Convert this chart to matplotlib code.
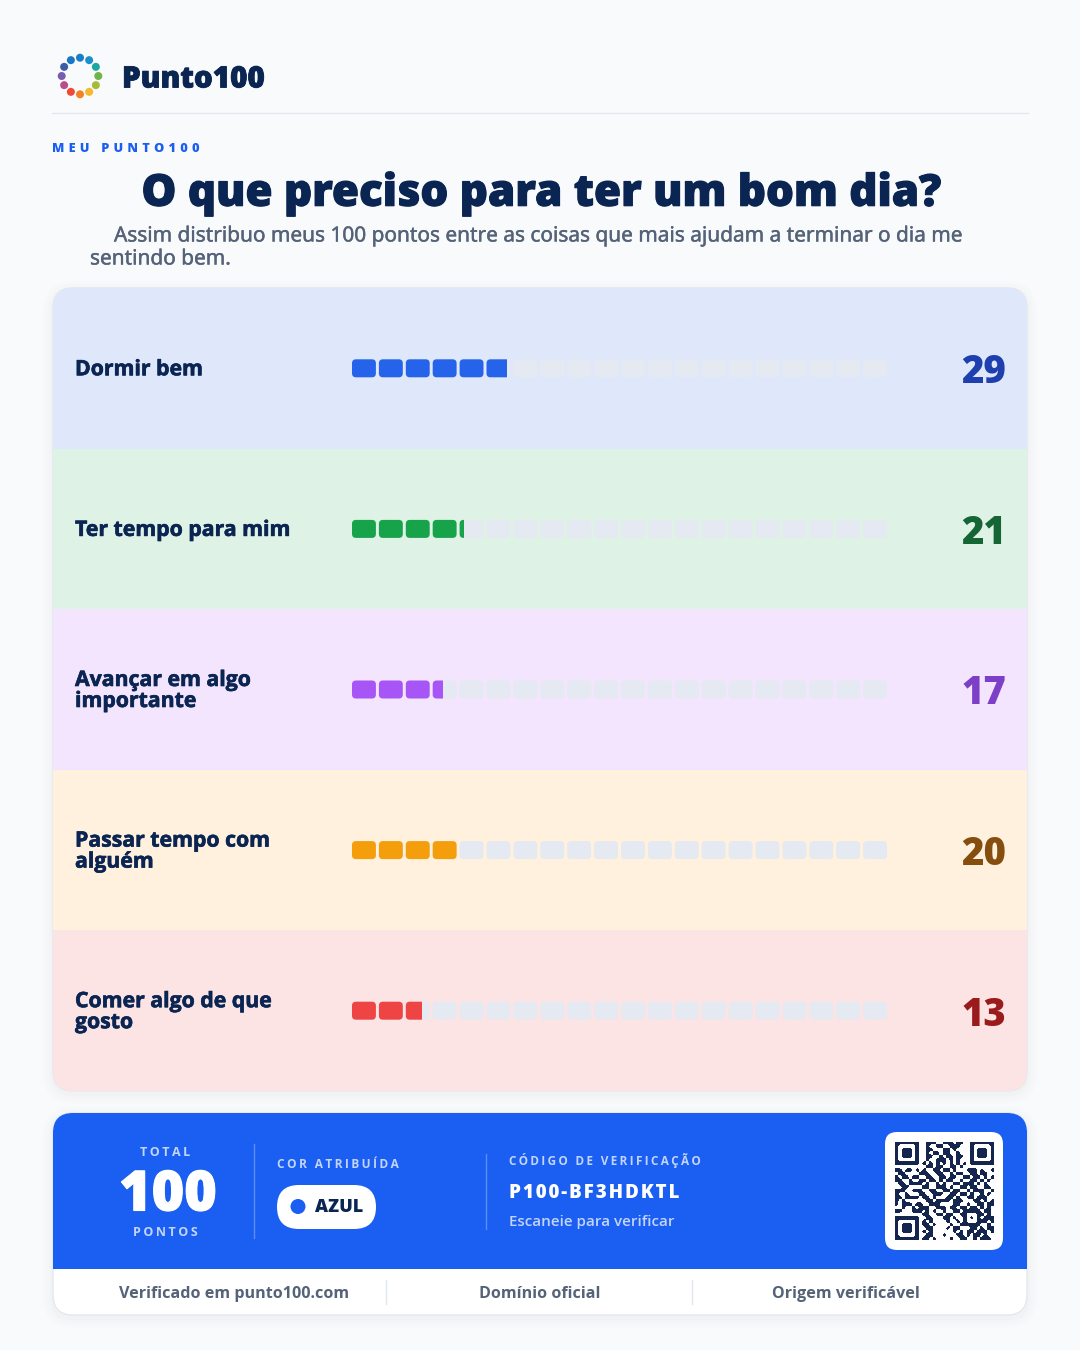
import numpy as np
import matplotlib
matplotlib.use("Agg")
import matplotlib.pyplot as plt
from matplotlib.patches import FancyBboxPatch, Rectangle, Circle
from matplotlib.colors import ListedColormap
from matplotlib import patheffects as pe

BG = "#F9FAFC"
NAVY = "#0B2553"
BLUE = "#1A5FF2"
GREY = "#556379"
PALE = "#C3D5FC"

categories = ["Dormir bem", "Ter tempo para mim", "Avançar em algo\nimportante",
              "Passar tempo com\nalguém", "Comer algo de que\ngosto"]
scores = [29, 21, 17, 20, 13]
row_colors = ["#DFE8FB", "#DEF2E5", "#F3E5FD", "#FFF1DE", "#FDE4E4"]
bar_colors = ["#2563EB", "#16A34A", "#A855F7", "#F59E0B", "#EF4444"]
num_colors = ["#1E40AF", "#166534", "#7E3FC8", "#854D0E", "#991B1B"]
track_color = "#E5E9F1"
ring_colors = ["#1B7FC8", "#1C8FCF", "#1FA79E", "#6DB54A", "#A6BC38", "#F5B82E",
               "#F58220", "#EE4B36", "#B94D8C", "#7A5CAE", "#3C5CA8", "#1878C4"]
footer_labels = ["Verificado em punto100.com", "Domínio oficial", "Origem verificável"]
n_segments = 20
max_score = 100

qr_rows = [
    "11111110" + "0111001110110" + "01111111",
    "10000010" + "0100110011100" + "01000001",
    "10111010" + "0110001101000" + "01011101",
    "10111010" + "0101101100100" + "01011101",
    "10111010" + "0110010110110" + "01011101",
    "10000010" + "0100111010100" + "01000001",
    "11111110" + "1010101010101" + "01111111",
    "00000000" + "0110110011010" + "00000000",
    "11011010" + "1001101101000" + "11101001",
    "01100001" + "1100110010110" + "01101100",
    "10110110" + "0110011011001" + "10110101",
    "11001001" + "1011010110010" + "01101010",
    "01101111" + "0100101001101" + "11010100",
    "00110000" + "1100111010011" + "01100110",
    "11100111" + "0011001101100" + "10111001",
    "10010001" + "1001110011011" + "01001010",
    "11011110" + "1101000110100" + "11011100",
    "10100000" + "0110111101110" + "00110101",
    "10111011" + "0011100001100" + "10011011",
    "00100101" + "1100111011011" + "01101010",
    "11000111" + "010100100110" + "11111" + "0110",
    "00000000" + "110011011001" + "10001" + "1010",
    "11111110" + "011000110100" + "10101" + "0111",
    "10000010" + "101000010010" + "10001" + "1101",
    "10111010" + "110100001001" + "11111" + "0010",
    "10111010" + "011000010110" + "00110" + "1011",
    "10111010" + "101000000101" + "01101" + "1101",
    "10000010" + "011000100011" + "01011" + "0100",
    "11111110" + "110100001001" + "10010" + "1110",
]

plt.rcParams['font.family'] = ['Open Sans', 'DejaVu Sans']

fig = plt.figure(figsize=(10.8, 13.5), dpi=100, facecolor=BG)
ax = fig.add_axes([0, 0, 1, 1])
ax.set_xlim(0, 1080)
ax.set_ylim(1350, 0)
ax.axis("off")


def track(s, sp="\u2009"):
    return sp.join(s)


def label(x, y, s, size, color, weight="bold", ha="left", thick=0, **kw):
    t = ax.text(x, y, s, fontsize=size, color=color, fontweight=weight, ha=ha, va="center", **kw)
    if thick:
        t.set_path_effects([pe.withStroke(linewidth=thick, foreground=color)])
    return t


def rbox(x, y, w, h, r, **kw):
    p = FancyBboxPatch((x, y), w, h, boxstyle=f"round,pad=0,rounding_size={r}", **kw)
    ax.add_patch(p)
    return p


def shadow(x, y, w, h, r):
    for grow in [10, 7, 4, 2]:
        rbox(x - grow, y - grow + 3, w + 2 * grow, h + 2 * grow, r + grow, fc="#33415C", ec="none", alpha=0.007)


# header
ring_angles = np.linspace(0, 2 * np.pi, len(ring_colors), endpoint=False)
for a, c in zip(ring_angles, ring_colors):
    ax.add_patch(Circle((80 + 18.3 * np.sin(a), 76 - 18.3 * np.cos(a)), 4, fc=c, ec="none"))
label(122, 79.5, "Punto100", 21.3, NAVY, "heavy", thick=0.6)
ax.plot([52, 1028], [113, 113], color="#E2E6EE", lw=1)
label(52, 148.5, track("MEU PUNTO100", "\u2004"), 9.2, BLUE, "heavy")
label(541, 194, "O que preciso para ter um bom dia?", 31.6, NAVY, "heavy", ha="center", thick=0.8)
for x, y, s in [(114, 236, "Assim distribuo meus 100 pontos entre as coisas que mais ajudam a terminar o dia me"),
                (90, 259, "sentindo bem.")]:
    t = ax.text(x, y, s, fontsize=15, color=GREY, va="center", family="Noto Sans")
    t.set_path_effects([pe.withStroke(linewidth=0.3, foreground=GREY)])

# main card
card_x, card_y, card_w, card_h = 53, 288, 974, 803
shadow(card_x, card_y, card_w, card_h, 20)
card = rbox(card_x, card_y, card_w, card_h, 20, fc="white", ec="#E4E7EE", lw=1, zorder=1)
row_h = card_h / len(scores)
for i, cat in enumerate(categories):
    top = card_y + i * row_h
    mid = top + row_h / 2
    bg = Rectangle((card_x, top), card_w, row_h, fc=row_colors[i], ec="none", zorder=2)
    ax.add_patch(bg)
    bg.set_clip_path(card)
    label(75, mid + 1.5, cat, 15.3, NAVY, "bold", linespacing=1.0, thick=0.45, zorder=3)
    label(1006.5, mid + 4.5, str(scores[i]), 27.5, num_colors[i], "heavy", ha="right", zorder=3)

# score bars, 0-100 scale on their own axes
ax_bar = fig.add_axes([352 / 1080, 1 - (card_y + card_h) / 1350, 535 / 1080, card_h / 1350])
ax_bar.set_xlim(0, max_score)
ax_bar.set_ylim(card_y + card_h, card_y)
ax_bar.axis("off")
seg_pitch = max_score / n_segments * (538 / 535)
seg_w = seg_pitch - 3 * max_score / 535
px = max_score / 535
for i, v in enumerate(scores):
    mid = card_y + (i + 0.5) * row_h
    clip = Rectangle((0, mid - 12), v, 24, transform=ax_bar.transData)
    for s in range(n_segments):
        for color, clipped in [(track_color, False), (bar_colors[i], True)]:
            seg = FancyBboxPatch((s * seg_pitch, mid - 9), seg_w, 18,
                                 boxstyle=f"round,pad=0,rounding_size={4 * px}",
                                 mutation_aspect=1 / px, fc=color, ec="none")
            ax_bar.add_patch(seg)
            if clipped:
                seg.set_clip_path(clip)

# bottom card
bx, by, bw, bh = 53, 1113, 974, 202
shadow(bx, by, bw, bh, 20)
bcard = rbox(bx, by, bw, bh, 20, fc="white", ec="#E4E7EE", lw=1, zorder=1)
band = Rectangle((bx, by), bw, 156, fc=BLUE, ec="none", zorder=2)
ax.add_patch(band)
band.set_clip_path(bcard)

label(165, 1152, track("TOTAL"), 9, PALE, ha="center", zorder=3)
label(168, 1196, "100", 40, "white", "heavy", ha="center", thick=0.8, zorder=3)
label(165, 1232, track("PONTOS"), 9, PALE, ha="center", zorder=3)
ax.plot([254, 254], [1144, 1238], color="#5C8DF5", lw=1, zorder=3)
label(277, 1164.5, track("COR ATRIBUÍDA"), 8.6, PALE, zorder=3)
rbox(277, 1185, 99, 44, 22, fc="white", ec="none", zorder=3)
ax.add_patch(Circle((298, 1206.5), 7.5, fc=BLUE, ec="none", zorder=4))
label(315, 1208, "AZUL", 13, NAVY, "heavy", zorder=4)
ax.plot([486, 486], [1154, 1229], color="#5C8DF5", lw=1, zorder=3)
label(509, 1160.5, track("CÓDIGO DE VERIFICAÇÃO"), 8.5, PALE, zorder=3)
label(509, 1192.5, track("P100-BF3HDKTL", "\u200a"), 13.5, "white", "heavy", zorder=3)
label(509, 1222, "Escaneie para verificar", 10.9, PALE, "semibold", zorder=3)

rbox(885, 1132, 118, 118, 12, fc="white", ec="none", zorder=3)
qr = np.array([[int(c) for c in r] for r in qr_rows])
ax_qr = fig.add_axes([895 / 1080, 1 - 1240 / 1350, 98.5 / 1080, 98.5 / 1350])
ax_qr.imshow(qr, cmap=ListedColormap(["white", "#14264D"]), interpolation="bilinear", aspect="auto")
ax_qr.axis("off")

# footer
for x, s in zip([234, 540, 846], footer_labels):
    label(x, 1294, s, 11.6, GREY, "bold", ha="center", zorder=3)
for x in [386, 692]:
    ax.plot([x, x], [1280, 1304], color="#E2E6EE", lw=1, zorder=3)

fig.savefig("out.png", facecolor=BG)
